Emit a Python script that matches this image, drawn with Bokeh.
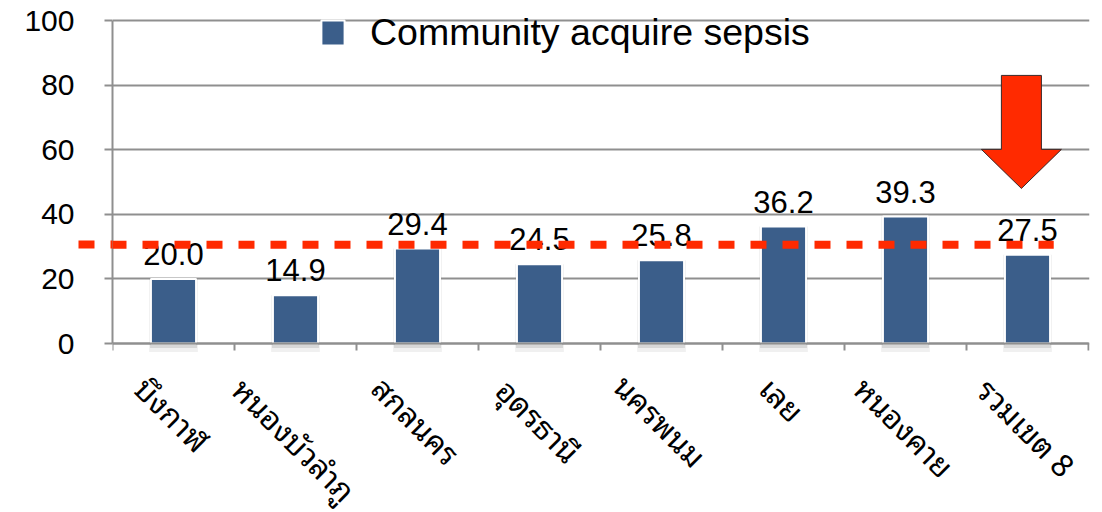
import math
import numpy as np
from bokeh.plotting import figure
from bokeh.models import (ColumnDataSource, LabelSet, Arrow, Range1d, FixedTicker,
                          Legend, LegendItem)
from bokeh.core.properties import value
from bokeh.embed import file_html
from bokeh.resources import INLINE

# ---------------- data ----------------
categories = ["บึงกาฬ", "หนองบัวลำภู", "สกลนคร", "อุดรธานี",
              "นครพนม", "เลย", "หนองคาย", "รวมเขต 8"]
values = [20.0, 14.9, 29.4, 24.5, 25.8, 36.2, 39.3, 27.5]
value_labels = ["20.0", "14.9", "29.4", "24.5", "25.8", "36.2", "39.3", "27.5"]
series_name = "Community acquire sepsis"
y_ticks = [0, 20, 40, 60, 80, 100]
reference_level = 30.6
highlight_category = "รวมเขต 8"

# ---------------- style / layout ----------------
BAR_COLOR = "#3b5e8a"
RED = "#ff2a00"
GRID = "#8f8f8f"
NUM_FONT = "Liberation Sans"
THAI_FONT = ("Noto Sans Thai Looped, Loma, Garuda, Sarabun, Noto Sans Thai, "
             "Noto Sans, Liberation Sans")
CAT_SIZE = 31

W, H = 1095, 512
LEFT, RIGHT, TOP, BOTTOM = 112, 6, 0, 0
PX_PER_UNIT = 3.23          # vertical scale of the value axis
TOP_PAD_PX = 20             # space above the 100 gridline

n = len(categories)
xs = np.arange(n) + 0.5
frame_w = W - LEFT - RIGHT
frame_h = H - TOP - BOTTOM
cat_px = 122.0
x_end = frame_w / cat_px
y_max = max(y_ticks) + TOP_PAD_PX / PX_PER_UNIT
y_min = y_max - frame_h / PX_PER_UNIT

p = figure(width=W, height=H, x_range=Range1d(0, x_end), y_range=Range1d(y_min, y_max),
           output_backend="svg", toolbar_location=None, title=None,
           x_axis_location="above",
           min_border_left=LEFT, min_border_right=RIGHT, min_border_top=TOP,
           min_border_bottom=BOTTOM)
p.outline_line_color = None
p.background_fill_color = "white"
p.border_fill_color = "white"

# y axis; its single red minor tick is the stub of the dashed reference line
# that pokes out left of the axis in the original chart
yax = p.yaxis[0]
yax.ticker = FixedTicker(ticks=y_ticks, minor_ticks=[reference_level])
yax.bounds = (min(y_ticks), max(y_ticks))
yax.axis_line_color = GRID
yax.axis_line_width = 2
yax.major_tick_line_color = GRID
yax.major_tick_line_width = 2
yax.major_tick_out = 8
yax.major_tick_in = 0
yax.minor_tick_line_color = RED
yax.minor_tick_line_width = 8
yax.minor_tick_out = 34
yax.minor_tick_in = 0
yax.minor_tick_line_dash = "16 16"
yax.major_label_standoff = 4
yax.major_label_text_font = NUM_FONT
yax.major_label_text_font_size = "30px"
yax.major_label_text_color = "black"

# x axis pinned at value 0: tick marks at category boundaries, pointing down
xax = p.xaxis[0]
xax.fixed_location = 0
xax.bounds = (0, n)
xax.ticker = FixedTicker(ticks=list(range(n + 1)))
xax.major_label_overrides = {i: "" for i in range(n + 1)}
xax.major_label_text_font_size = "0px"
xax.major_label_standoff = 0
xax.axis_line_color = GRID
xax.axis_line_width = 2
xax.major_tick_line_color = GRID
xax.major_tick_line_width = 2
xax.major_tick_out = 0
xax.major_tick_in = 7
xax.minor_tick_line_color = None

p.xgrid.visible = False
p.ygrid.ticker = FixedTicker(ticks=y_ticks)
p.ygrid.grid_line_color = GRID
p.ygrid.grid_line_width = 2

# bars (with a soft drop shadow beneath, as in the original)
src = ColumnDataSource(dict(x=xs, top=values, label=value_labels))
p.vbar(x="x", top="top", bottom=-2.6, width=0.40, source=src,
       fill_color="black", fill_alpha=0.06, line_color=None)
p.vbar(x="x", top="top", bottom=-1.4, width=0.385, source=src,
       fill_color="black", fill_alpha=0.10, line_color=None)
bars = p.vbar(x="x", top="top", width=0.37, source=src,
              fill_color=BAR_COLOR, line_color="white", line_width=2)

# value labels
p.add_layout(LabelSet(x="x", y="top", text="label", source=src, y_offset=14,
                      text_align="center", text_baseline="alphabetic",
                      text_font=value(NUM_FONT), text_font_size="31px",
                      text_color="black"))

# dashed reference line
p.add_layout(Arrow(start=None, end=None, x_start=0, y_start=reference_level,
                   x_end=n - 0.285, y_end=reference_level,
                   line_color=RED, line_width=8, line_dash="16 16",
                   line_dash_offset=2))

# big red down arrow above the highlighted category
hx = categories.index(highlight_category) + 0.45
sw, hw = 0.164, 0.328
arrow_x = [hx - sw, hx + sw, hx + sw, hx + hw, hx, hx - hw, hx - sw]
arrow_y = [83.0, 83.0, 60.1, 60.1, 48.0, 60.1, 60.1]
p.patch(arrow_x, arrow_y, fill_color=RED, line_color="#3a2a2a", line_width=1)

# rotated category labels (centred on the category, tops aligned)
COMBINING = set("\u0e31\u0e34\u0e35\u0e36\u0e37\u0e38\u0e39\u0e3a"
                "\u0e47\u0e48\u0e49\u0e4a\u0e4b\u0e4c\u0e4d\u0e4e")


def est_width(s, size):
    w = 0.0
    for ch in s:
        if ch in COMBINING:
            continue
        if ch == " ":
            w += 0.28
        elif ch.isdigit():
            w += 0.556
        elif ch in "เแโใไ":
            w += 0.36
        else:
            w += 0.58
    return w * size


r2 = math.sqrt(2)
cat_offsets = [-(28 + (est_width(c, CAT_SIZE) + 0.9 * CAT_SIZE) / (2 * r2))
               for c in categories]
cat_src = ColumnDataSource(dict(x=xs, y=[0] * n, text=categories, yo=cat_offsets))
p.add_layout(LabelSet(x="x", y="y", text="text", source=cat_src, y_offset="yo",
                      angle=-math.pi / 4, text_align="center", text_baseline="middle",
                      text_font=value(THAI_FONT), text_font_size=f"{CAT_SIZE}px",
                      text_color="black"))

# legend
legend = Legend(items=[LegendItem(label=series_name, renderers=[bars])],
                location=(206, frame_h - 54), orientation="horizontal",
                background_fill_alpha=0, border_line_color=None,
                padding=0, margin=0, glyph_width=29, glyph_height=31,
                label_standoff=23, label_text_font=NUM_FONT,
                label_text_font_size="37.5px", label_text_color="black")
p.add_layout(legend, "center")

open("out.html", "w").write(file_html(p, INLINE))
